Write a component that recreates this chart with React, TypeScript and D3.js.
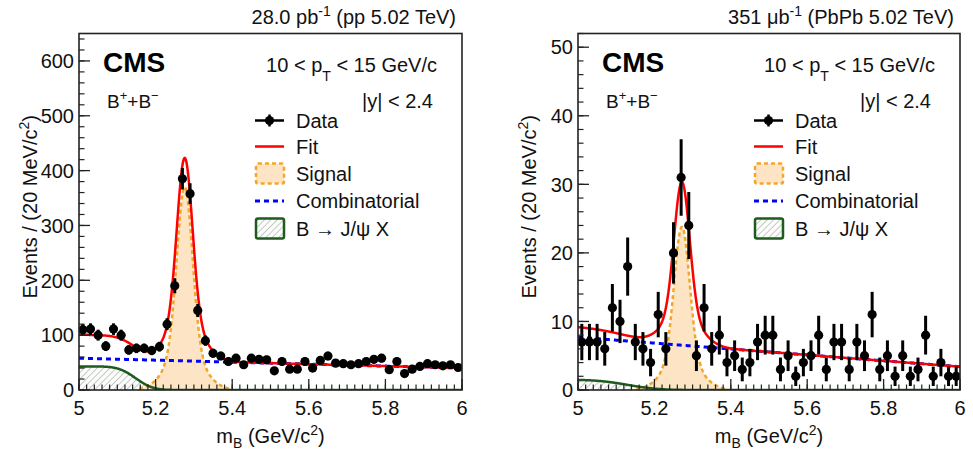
import React from 'react';
import * as d3 from 'd3';

// ---------------- DATA ----------------
const binCenters = d3.range(50).map((i) => 5.01 + 0.02 * i);

const ppCounts = [
  110, 111, 100, 80, 111, 100, 73, 76, 76, 72,
  79, 120, 190, 385, 358, 145, 90, 67, 62, 52,
  58, 46, 58, 56, 55, 35, 52, 38, 38, 52,
  40, 54, 62, 49, 48, 46, 48, 52, 56, 58,
  37, 52, 30, 38, 43, 48, 46, 44, 46, 41,
];

const pbpbCounts = [
  7, 7, 7, 6, 12, 10, 18, 7, 6, 4,
  11, 6, 20, 31, 24, 5, 12, 6, 8, 4,
  5, 3, 4, 7, 8, 8, 3, 5, 2, 4,
  5, 8, 3, 7, 7, 3, 7, 5, 11, 3,
  5, 2, 5, 2, 3, 8, 2, 4, 2, 2,
];

const xTickValues = [5, 5.2, 5.4, 5.6, 5.8, 6];
const xTickLabels = ['5', '5.2', '5.4', '5.6', '5.8', '6'];
const ppYTicks = [0, 100, 200, 300, 400, 500, 600];
const pbpbYTicks = [0, 10, 20, 30, 40, 50];

// fit model parameters
const ppFit = {
  combC0: 58, combC1: -18,
  jpsiA: 43, jpsiM0: 5.148, jpsiS: 0.05,
  sigA: 370, sigMu: 5.276, sigS1: 0.02, sigS2: 0.045, sigF2: 0.2,
};
const pbpbFit = {
  combC0: 7.7, combC1: -4.3,
  jpsiA: 1.5, jpsiM0: 5.13, jpsiS: 0.09,
  sigA: 23.8, sigMu: 5.272, sigS1: 0.02, sigS2: 0.045, sigF2: 0.2,
};

const legendLabels = ['Data', 'Fit', 'Signal', 'Combinatorial', 'B \u2192 J/\u03c8 X'];

// ---------------- helpers ----------------
function erf(x: number) {
  const t = 1 / (1 + 0.3275911 * Math.abs(x));
  const y = 1 - ((((1.061405429 * t - 1.453152027) * t + 1.421413741) * t - 0.284496736) * t + 0.254829592) * t * Math.exp(-x * x);
  return x >= 0 ? y : -y;
}
type Fit = typeof ppFit;
const comb = (f: Fit, m: number) => f.combC0 + f.combC1 * (m - 5);
const jpsi = (f: Fit, m: number) => (f.jpsiA * (1 - erf((m - f.jpsiM0) / f.jpsiS))) / 2;
const sig = (f: Fit, m: number) => {
  const d = m - f.sigMu;
  return f.sigA * ((1 - f.sigF2) * Math.exp(-0.5 * (d / f.sigS1) ** 2) + f.sigF2 * Math.exp(-0.5 * (d / f.sigS2) ** 2));
};
const total = (f: Fit, m: number) => comb(f, m) + jpsi(f, m) + sig(f, m);

const grid = d3.range(0, 1001).map((i) => 5 + i * 0.001);

const FONT = 'Liberation Sans, Arial, Helvetica, sans-serif';
const W = 973;
const H = 450;
const TOP = 33.5;
const BOTTOM = 390;

type PanelProps = {
  id: string;
  left: number;
  right: number;
  yMax: number;
  yTicks: number[];
  yMinor: number;
  counts: number[];
  fit: Fit;
  lumi: React.ReactNode;
};

function Panel({ id, left, right, yMax, yTicks, yMinor, counts, fit, lumi }: PanelProps) {
  const x = d3.scaleLinear().domain([5, 6]).range([left, right]);
  const y = d3.scaleLinear().domain([0, yMax]).range([BOTTOM, TOP]);

  const lineOf = (fn: (m: number) => number, pts: number[]) =>
    d3.line<number>().x((m) => x(m)).y((m) => y(fn(m)))(pts) || '';

  const sigPts = grid.filter((m) => Math.abs(m - fit.sigMu) <= 0.12);
  const sigArea = d3.area<number>().x((m) => x(m)).y0(y(0)).y1((m) => y(sig(fit, m)))(sigPts) || '';
  const jpsiArea = d3.area<number>().x((m) => x(m)).y0(y(0)).y1((m) => y(jpsi(fit, m)))(grid) || '';

  const xMinor = d3.range(0, 51).map((i) => 5 + i * 0.02);
  const yMinorTicks = d3.range(0, yMax + 1e-9, yMinor);

  const lx = left + 176; // legend symbol left
  const lc = left + 190.5;
  const tx = left + 217;
  const rows = [120.5, 146.5, 173.5, 201, 228.5];

  return (
    <g>
      <defs>
        <clipPath id={`clip-${id}`}>
          <rect x={left} y={TOP} width={right - left} height={BOTTOM - TOP} />
        </clipPath>
      </defs>
      <g clipPath={`url(#clip-${id})`}>
        <path d={jpsiArea} fill="url(#hatch)" stroke="none" />
        <path d={sigArea} fill="#fde4c4" stroke="none" />
        <path d={lineOf((m) => sig(fit, m), sigPts)} fill="none" stroke="#f4a62a" strokeWidth={2.5} strokeDasharray="4,3" />
        <path d={lineOf((m) => jpsi(fit, m), grid)} fill="none" stroke="#1f5a1f" strokeWidth={2.5} />
        <path d={lineOf((m) => comb(fit, m), grid)} fill="none" stroke="#0000ff" strokeWidth={3} strokeDasharray="5,4" />
        <path d={lineOf((m) => total(fit, m), grid)} fill="none" stroke="#ff0000" strokeWidth={2.5} />
        {counts.map((n, i) => {
          const e = Math.sqrt(n);
          return (
            <g key={i}>
              <line x1={x(binCenters[i])} x2={x(binCenters[i])} y1={y(n - e)} y2={y(n + e)} stroke="#000" strokeWidth={3} />
              <circle cx={x(binCenters[i])} cy={y(n)} r={4.6} fill="#000" />
            </g>
          );
        })}
      </g>

      {/* frame */}
      <rect x={left} y={TOP} width={right - left} height={BOTTOM - TOP} fill="none" stroke="#222" strokeWidth={1.6} />

      {/* x ticks */}
      {xMinor.map((m, i) => (
        <line key={`xm${i}`} x1={x(m)} x2={x(m)} y1={BOTTOM} y2={BOTTOM - 5.5} stroke="#222" strokeWidth={1.2} />
      ))}
      {xTickValues.map((m, i) => (
        <g key={`xt${i}`}>
          <line x1={x(m)} x2={x(m)} y1={BOTTOM} y2={BOTTOM - 11} stroke="#222" strokeWidth={1.3} />
          <text x={x(m)} y={415} fontSize={20} textAnchor="middle" fontFamily={FONT} fill="#111">
            {xTickLabels[i]}
          </text>
        </g>
      ))}
      {/* y ticks */}
      {yMinorTicks.map((v, i) => (
        <line key={`ym${i}`} x1={left} x2={left + 5.5} y1={y(v)} y2={y(v)} stroke="#222" strokeWidth={1.2} />
      ))}
      {yTicks.map((v, i) => (
        <g key={`yt${i}`}>
          <line x1={left} x2={left + 11} y1={y(v)} y2={y(v)} stroke="#222" strokeWidth={1.3} />
          <text x={left - 5} y={y(v)} dy="0.36em" fontSize={20} textAnchor="end" fontFamily={FONT} fill="#111">
            {v}
          </text>
        </g>
      ))}

      {/* axis titles */}
      <text x={(left + right) / 2} y={443} fontSize={20} textAnchor="middle" fontFamily={FONT} fill="#111">
        <tspan>m</tspan>
        <tspan dy={5} fontSize={14}>B</tspan>
        <tspan dy={-5}> (GeV/c</tspan>
        <tspan dy={-8} fontSize={14}>2</tspan>
        <tspan dy={8}>)</tspan>
      </text>
      <text transform={`translate(${left - 42},${(TOP + BOTTOM) / 2 - 5}) rotate(-90)`} fontSize={20} textAnchor="middle" fontFamily={FONT} fill="#111">
        <tspan>Events / (20 MeV/c</tspan>
        <tspan dy={-8} fontSize={14}>2</tspan>
        <tspan dy={8}>)</tspan>
      </text>

      {/* lumi */}
      <text x={right - 6} y={24} fontSize={20} textAnchor="end" fontFamily={FONT} fill="#111">
        {lumi}
      </text>

      {/* CMS and labels */}
      <text x={left + 24} y={72} fontSize={28} fontWeight="bold" fontFamily={FONT} fill="#000">CMS</text>
      <text x={left + 28} y={108} fontSize={19} fontFamily={FONT} fill="#111">
        <tspan>B</tspan>
        <tspan dy={-8} fontSize={13}>+</tspan>
        <tspan dy={8}>+B</tspan>
        <tspan dy={-8} fontSize={13}>{'\u2212'}</tspan>
      </text>
      <text x={right - 25} y={72} fontSize={20} textAnchor="end" fontFamily={FONT} fill="#111">
        <tspan>{'10 < p'}</tspan>
        <tspan dy={9} fontSize={14}>T</tspan>
        <tspan dy={-9}>{' < 15 GeV/c'}</tspan>
      </text>
      <text x={right - 29} y={108} fontSize={20} textAnchor="end" fontFamily={FONT} fill="#111">
        {'|y| < 2.4'}
      </text>

      {/* legend */}
      <g>
        <line x1={lx} x2={lx + 29} y1={rows[0]} y2={rows[0]} stroke="#000" strokeWidth={2.5} />
        <line x1={lc} x2={lc} y1={rows[0] - 6} y2={rows[0] + 6} stroke="#000" strokeWidth={2.5} />
        <circle cx={lc} cy={rows[0]} r={4.6} fill="#000" />
        <line x1={lx} x2={lx + 29} y1={rows[1]} y2={rows[1]} stroke="#ff0000" strokeWidth={2.5} />
        <rect x={lx + 1} y={rows[2] - 10} width={28} height={20} fill="#fde4c4" stroke="#f4a62a" strokeWidth={2.5} strokeDasharray="4,3" rx={2} />
        <line x1={lx} x2={lx + 29} y1={rows[3]} y2={rows[3]} stroke="#0000ff" strokeWidth={3} strokeDasharray="5,4" />
        <rect x={lx + 1} y={rows[4] - 10} width={28} height={20} fill="url(#hatch)" stroke="#1f5a1f" strokeWidth={2.5} rx={2} />
        {legendLabels.map((t, i) => (
          <text key={t} x={tx} y={rows[i] + 7} fontSize={20} fontFamily={FONT} fill="#111">
            {t}
          </text>
        ))}
      </g>
    </g>
  );
}

export default function App() {
  return (
    <svg width={W} height={H} viewBox={`0 0 ${W} ${H}`} style={{ position: 'absolute', left: 0, top: 0, background: '#fff' }}>
      <defs>
        <pattern id="hatch" patternUnits="userSpaceOnUse" width={4.5} height={4.5} patternTransform="rotate(45)">
          <rect width={4.5} height={4.5} fill="#fbfcfb" />
          <line x1={0} y1={0} x2={0} y2={4.5} stroke="#8e9c8e" strokeWidth={1} />
        </pattern>
      </defs>
      <rect width={W} height={H} fill="#fff" />
      <Panel
        id="pp"
        left={79}
        right={462}
        yMax={650}
        yTicks={ppYTicks}
        yMinor={20}
        counts={ppCounts}
        fit={ppFit}
        lumi={
          <>
            <tspan>28.0 pb</tspan>
            <tspan dy={-8} fontSize={14}>-1</tspan>
            <tspan dy={8}> (pp 5.02 TeV)</tspan>
          </>
        }
      />
      <Panel
        id="pbpb"
        left={578}
        right={960}
        yMax={52}
        yTicks={pbpbYTicks}
        yMinor={2}
        counts={pbpbCounts}
        fit={pbpbFit}
        lumi={
          <>
            <tspan>{'351 \u03bcb'}</tspan>
            <tspan dy={-8} fontSize={14}>-1</tspan>
            <tspan dy={8}> (PbPb 5.02 TeV)</tspan>
          </>
        }
      />
    </svg>
  );
}
